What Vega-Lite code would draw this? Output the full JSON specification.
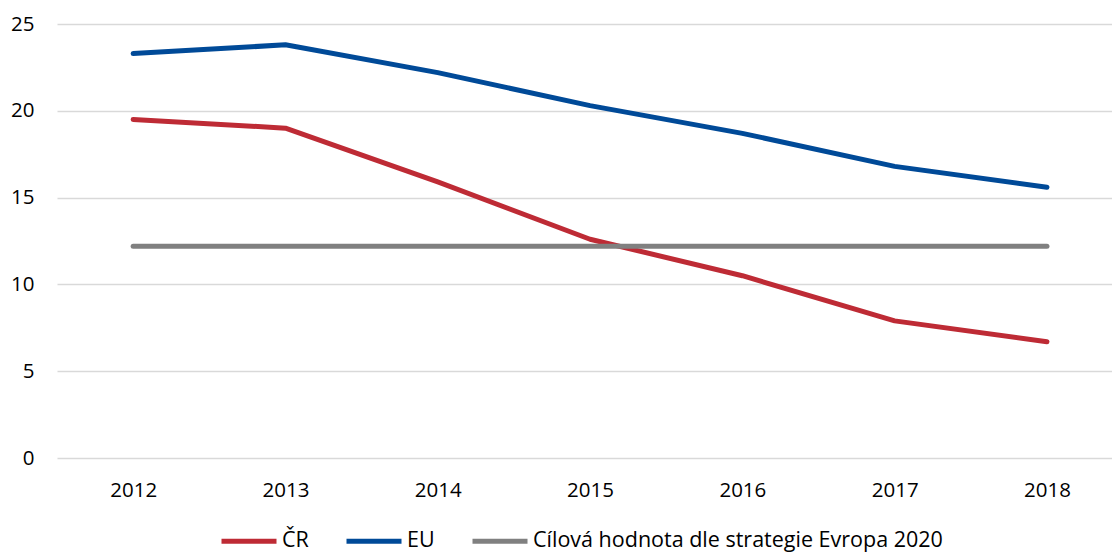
{
  "$schema": "https://vega.github.io/schema/vega-lite/v6.json",
  "width": 1055,
  "height": 434,
  "autosize": "none",
  "padding": {"left": 57, "top": 24, "right": 0, "bottom": 94},
  "background": "white",
  "config": {
    "font": "Open Sans",
    "view": {"stroke": null}
  },
  "data": {
    "values": [
      {"year": 2012, "series": "ČR", "value": 19.5},
      {"year": 2013, "series": "ČR", "value": 19.0},
      {"year": 2014, "series": "ČR", "value": 15.9},
      {"year": 2015, "series": "ČR", "value": 12.6},
      {"year": 2016, "series": "ČR", "value": 10.5},
      {"year": 2017, "series": "ČR", "value": 7.9},
      {"year": 2018, "series": "ČR", "value": 6.7},
      {"year": 2012, "series": "EU", "value": 23.3},
      {"year": 2013, "series": "EU", "value": 23.8},
      {"year": 2014, "series": "EU", "value": 22.2},
      {"year": 2015, "series": "EU", "value": 20.3},
      {"year": 2016, "series": "EU", "value": 18.7},
      {"year": 2017, "series": "EU", "value": 16.8},
      {"year": 2018, "series": "EU", "value": 15.6},
      {"year": 2012, "series": "Cílová hodnota dle strategie Evropa 2020", "value": 12.2},
      {"year": 2013, "series": "Cílová hodnota dle strategie Evropa 2020", "value": 12.2},
      {"year": 2014, "series": "Cílová hodnota dle strategie Evropa 2020", "value": 12.2},
      {"year": 2015, "series": "Cílová hodnota dle strategie Evropa 2020", "value": 12.2},
      {"year": 2016, "series": "Cílová hodnota dle strategie Evropa 2020", "value": 12.2},
      {"year": 2017, "series": "Cílová hodnota dle strategie Evropa 2020", "value": 12.2},
      {"year": 2018, "series": "Cílová hodnota dle strategie Evropa 2020", "value": 12.2}
    ]
  },
  "mark": {"type": "line", "strokeWidth": 5, "strokeCap": "round", "strokeJoin": "round"},
  "encoding": {
    "x": {
      "field": "year",
      "type": "quantitative",
      "scale": {"domain": [2011.5, 2018.427], "nice": false, "zero": false},
      "axis": {
        "title": null,
        "values": [2012, 2013, 2014, 2015, 2016, 2017, 2018],
        "format": "d",
        "domain": false,
        "ticks": false,
        "grid": false,
        "labelAngle": 0,
        "labelFontSize": 20.5,
        "labelColor": "#000000",
        "labelPadding": 22
      }
    },
    "y": {
      "field": "value",
      "type": "quantitative",
      "scale": {"domain": [0, 25], "nice": false},
      "axis": {
        "title": null,
        "values": [0, 5, 10, 15, 20, 25],
        "domain": false,
        "ticks": false,
        "grid": true,
        "gridColor": "#d9d9d9",
        "gridWidth": 1.5,
        "labelFontSize": 20.5,
        "labelColor": "#000000",
        "labelPadding": 23
      }
    },
    "color": {
      "field": "series",
      "type": "nominal",
      "sort": null,
      "scale": {
        "domain": ["ČR", "EU", "Cílová hodnota dle strategie Evropa 2020"],
        "range": ["#BE2B35", "#004A98", "#808080"]
      },
      "legend": {
        "title": null,
        "orient": "none",
        "direction": "horizontal",
        "legendX": 162,
        "legendY": 487,
        "symbolType": "stroke",
        "symbolSize": 3025,
        "symbolStrokeWidth": 5,
        "labelFontSize": 21.5,
        "labelColor": "#000000",
        "labelOffset": 3,
        "columnPadding": 27,
        "labelLimit": 600
      }
    }
  }
}
